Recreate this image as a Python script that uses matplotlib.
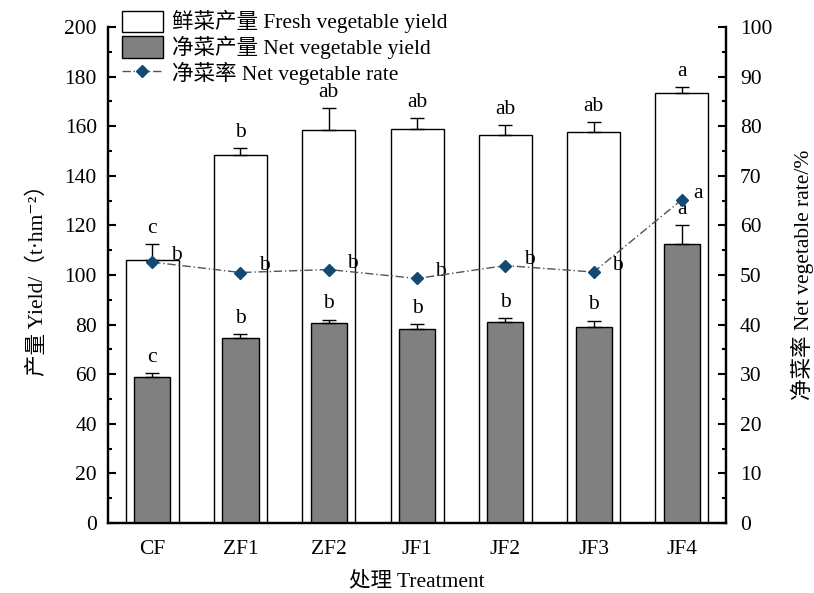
import matplotlib
matplotlib.use("Agg")
import matplotlib.pyplot as plt
from matplotlib.lines import Line2D
from matplotlib.patches import Patch
import numpy as np

plt.rcParams['font.family'] = ['Liberation Serif', 'Noto Sans CJK SC', 'DejaVu Serif']
plt.rcParams['axes.unicode_minus'] = False

categories = ['CF', 'ZF1', 'ZF2', 'JF1', 'JF2', 'JF3', 'JF4']
fresh_yield = [106.0, 148.5, 158.5, 158.9, 156.6, 157.6, 173.2]
fresh_err = [6.5, 2.8, 8.7, 4.4, 3.8, 4.2, 2.6]
fresh_letters = ['c', 'b', 'ab', 'ab', 'ab', 'ab', 'a']
net_yield = [58.8, 74.6, 80.6, 78.2, 81.0, 79.2, 112.6]
net_err = [1.6, 1.6, 1.4, 2.0, 1.6, 2.4, 7.6]
net_letters = ['c', 'b', 'b', 'b', 'b', 'b', 'a']
net_rate = [52.6, 50.5, 51.1, 49.3, 51.9, 50.6, 65.2]
rate_letters = ['b', 'b', 'b', 'b', 'b', 'b', 'a']

fig = plt.figure(figsize=(8.14, 5.93), dpi=100)
ax = fig.add_axes([0.1327, 0.118, 0.892 - 0.1327, 0.9545 - 0.118])
ax2 = ax.twinx()

x = np.arange(len(categories))
fs = 15.5

ax.bar(x, fresh_yield, width=0.6, color='white', edgecolor='black', linewidth=1.0, zorder=2)
ax.errorbar(x, fresh_yield, yerr=[np.zeros(len(x)), fresh_err], fmt='none', ecolor='black',
            elinewidth=1.0, capsize=5, capthick=1.0, zorder=3)
ax.bar(x, net_yield, width=0.41, color='#808080', edgecolor='black', linewidth=1.0, zorder=4)
ax.errorbar(x, net_yield, yerr=[np.zeros(len(x)), net_err], fmt='none', ecolor='black',
            elinewidth=1.0, capsize=5, capthick=1.0, zorder=5)

for i in range(len(x)):
    ax.text(x[i], fresh_yield[i] + fresh_err[i] + 2.5, fresh_letters[i], ha='center', va='bottom', fontsize=fs)
    ax.text(x[i], net_yield[i] + net_err[i] + 2.5, net_letters[i], ha='center', va='bottom', fontsize=fs)

ax2.plot(x, net_rate, linestyle=(0, (6, 2, 1, 2)), color='#4a5560', linewidth=1.0,
         marker='D', markersize=6.5, markerfacecolor='#134a74', markeredgecolor='#134a74', zorder=6)
for i in range(len(x)):
    dx = 0.18 if i == len(x) - 1 else 0.27
    ax2.text(x[i] + dx, net_rate[i] - 0.6, rate_letters[i], ha='center', va='bottom', fontsize=fs)

ax.set_xlim(-0.5, 6.5)
ax.set_ylim(0, 200)
ax2.set_ylim(0, 100)
ax.set_yticks(np.arange(0, 201, 20))
ax.set_yticks(np.arange(10, 200, 20), minor=True)
ax2.set_yticks(np.arange(0, 101, 10))
ax2.set_yticks(np.arange(5, 100, 10), minor=True)
ax.set_xticks(x)
ax.set_xticklabels(categories, fontsize=fs)

for a in (ax, ax2):
    a.spines['top'].set_visible(False)
    for s in ('left', 'right', 'bottom'):
        a.spines[s].set_linewidth(1.6)
ax.tick_params(axis='y', direction='in', length=6, width=1.5, labelsize=fs, pad=8)
ax.tick_params(axis='y', which='minor', direction='in', length=3, width=1.5)
ax.tick_params(axis='x', length=0, labelsize=fs, pad=12)
ax2.tick_params(axis='y', direction='in', length=6, width=1.5, labelsize=fs, pad=10)
ax2.tick_params(axis='y', which='minor', direction='in', length=3, width=1.5)

ax.set_xlabel('处理 Treatment', fontsize=fs, labelpad=9)
ax.set_ylabel('产量 Yield/（t·hm⁻²）', fontsize=fs, labelpad=12)
ax2.set_ylabel('净菜率 Net vegetable rate/%', fontsize=fs, labelpad=13)

handles = [
    Patch(facecolor='white', edgecolor='black', linewidth=1.0),
    Patch(facecolor='#808080', edgecolor='black', linewidth=1.0),
    Line2D([0], [0], linestyle=(0, (6, 2, 1, 2)), color='#4a5560', linewidth=1.0,
           marker='D', markersize=6.5, markerfacecolor='#134a74', markeredgecolor='#134a74'),
]
labels = ['鲜菜产量 Fresh vegetable yield', '净菜产量 Net vegetable yield', '净菜率 Net vegetable rate']
fig.legend(handles, labels, loc='upper left', bbox_to_anchor=(0.131, 1.008), frameon=False,
           fontsize=fs, handlelength=1.9, handleheight=1.15, handletextpad=0.45, labelspacing=0.12,
           borderpad=0.2)

fig.savefig('out.png', dpi=100)
